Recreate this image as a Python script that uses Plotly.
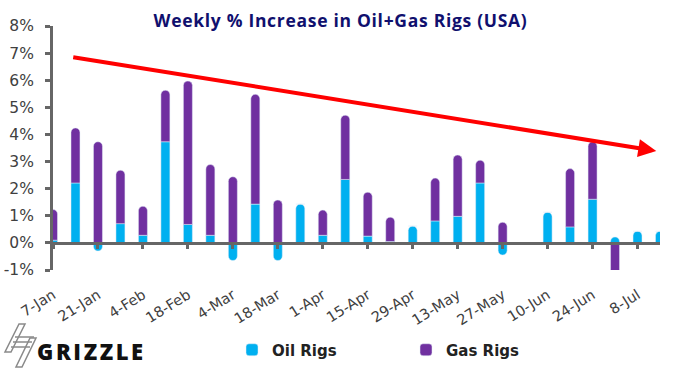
import plotly.graph_objects as go

# ---- data ----
weeks = ["2022-01-07", "2022-01-14", "2022-01-21", "2022-01-28", "2022-02-04", "2022-02-11",
         "2022-02-18", "2022-02-25", "2022-03-04", "2022-03-11", "2022-03-18", "2022-03-25",
         "2022-04-01", "2022-04-08", "2022-04-15", "2022-04-22", "2022-04-29", "2022-05-06",
         "2022-05-13", "2022-05-20", "2022-05-27", "2022-06-03", "2022-06-10", "2022-06-17",
         "2022-06-24", "2022-07-01", "2022-07-08", "2022-07-15"]
oil_rigs = [0.10, 2.21, -0.30, 0.71, 0.28, 3.73, 0.68, 0.28, -0.65, 1.43, -0.65, 1.43, 0.28, 2.34,
            0.25, 0.05, 0.62, 0.81, 0.98, 2.21, -0.45, 0.00, 1.13, 0.59, 1.61, 0.22, 0.43, 0.43]
gas_rigs = [1.13, 2.03, 3.73, 1.97, 1.07, 1.90, 5.29, 2.61, 2.44, 4.05, 1.58, 0.00, 0.93, 2.37,
            1.62, 0.90, 0.00, 1.58, 2.26, 0.84, 0.76, 0.00, 0.00, 2.15, 2.12, -1.15, 0.00, 0.00]
y_ticks = [-1, 0, 1, 2, 3, 4, 5, 6, 7, 8]
y_labels = ["-1%", "0%", "1%", "2%", "3%", "4%", "5%", "6%", "7%", "8%"]
trend_start = ("2022-01-12 20:00", 6.86)
trend_end = ("2022-07-13 20:00", 3.39)

OIL = "#00B0F0"
GAS = "#7030A0"
AXIS = "#666666"
WEEK_MS = 7 * 86400000

W, H = 684, 369
ML, MR, MT, MB = 53, 24, 26, 99
PW, PH = W - ML - MR, H - MT - MB


def px2paper(x, y):
    return (x - ML) / PW, (H - MB - y) / PH


fig = go.Figure()
fig.add_bar(x=weeks, y=oil_rigs, name="Oil Rigs", marker_color=OIL, width=0.4 * WEEK_MS)
fig.add_bar(x=weeks, y=gas_rigs, name="Gas Rigs", marker_color=GAS, width=0.4 * WEEK_MS)
fig.add_scatter(x=[], y=[], xaxis="x2", showlegend=False)

fig.add_annotation(x=trend_end[0], y=trend_end[1], ax=trend_start[0], ay=trend_start[1],
                   xref="x", yref="y", axref="x", ayref="y", text="", showarrow=True,
                   arrowhead=2, arrowsize=0.9, arrowwidth=4, arrowcolor="#FF0000",
                   standoff=0, startstandoff=0)

# Logo
gx, gy = px2paper(35, 351)
fig.add_annotation(x=gx, y=gy, xref="paper", yref="paper", xanchor="left", yanchor="middle",
                   text="<span style='letter-spacing:2.6px'>GRIZZLE</span>", showarrow=False,
                   font=dict(family="Open Sans", size=22, color="#111111", weight=800))


def path(pts, close=True):
    s = ""
    for i, (x, y) in enumerate(pts):
        px, py = px2paper(x, y)
        s += ("M" if i == 0 else "L") + f"{px:.5f},{py:.5f} "
    return s + ("Z" if close else "")


logo_gray = "#8a8a8a"
for pts, close in [
    ([(19, 324), (25, 324), (11, 352), (5, 352)], True),
    ([(30, 338), (36, 338), (22, 367), (16, 367)], True),
    ([(15, 337), (34, 337)], False),
    ([(13, 342), (32, 342)], False),
    ([(11, 347), (30, 347)], False),
]:
    fig.add_shape(type="path", path=path(pts, close), xref="paper", yref="paper",
                  line=dict(color=logo_gray, width=1.5))

tickfont = dict(family="DejaVu Sans", size=15.5, color="#404040")

fig.update_layout(
    width=W, height=H,
    margin=dict(l=ML, r=MR, t=MT, b=MB, autoexpand=False),
    paper_bgcolor="white", plot_bgcolor="white",
    barmode="relative",
    barcornerradius="50%",
    title=dict(text="<b><span style='letter-spacing:0.7px'>Weekly % Increase in Oil+Gas Rigs (USA)</span></b>",
               x=340.5 / W, xref="container", xanchor="center",
               y=1 - 21 / H, yref="container", yanchor="middle",
               font=dict(family="Open Sans", size=17.5, color="#10106E")),
    xaxis=dict(type="date", range=[weeks[0], weeks[-1]], anchor="free", position=1 / 9,
               showline=True, linecolor=AXIS, linewidth=3, ticks="outside", ticklen=4,
               tickwidth=3, tickcolor=AXIS, tick0=weeks[0], dtick=2 * WEEK_MS,
               showticklabels=False, showgrid=False, zeroline=False, automargin=False),
    xaxis2=dict(type="date", range=[weeks[0], weeks[-1]], overlaying="x", anchor="free",
                position=0, side="bottom", tick0=weeks[0], dtick=2 * WEEK_MS,
                tickformat="%-d-%b", tickangle=-32, ticks="outside", ticklen=10,
                tickcolor="rgba(0,0,0,0)", showline=False, showgrid=False, zeroline=False,
                tickfont=dict(family="DejaVu Sans", size=14.5, color="#404040"),
                automargin=False),
    yaxis=dict(range=[-1, 8], tickvals=y_ticks, ticktext=y_labels, showline=True,
               linecolor=AXIS, linewidth=3, ticks="outside", ticklen=5, tickwidth=3,
               tickcolor=AXIS, showgrid=False, zeroline=False, tickfont=tickfont,
               ticklabelstandoff=8, automargin=False),
    legend=dict(orientation="h", xref="container", yref="container", x=232 / W,
                xanchor="left", y=1 - 350 / H, yanchor="middle", entrywidth=129,
                font=dict(family="DejaVu Sans", size=15, color="#222222", weight="bold"),
                bgcolor="rgba(0,0,0,0)"),
    showlegend=True,
)

fig.write_html("out.html", config={"displayModeBar": False},
               post_script="document.body.style.margin='0';")
